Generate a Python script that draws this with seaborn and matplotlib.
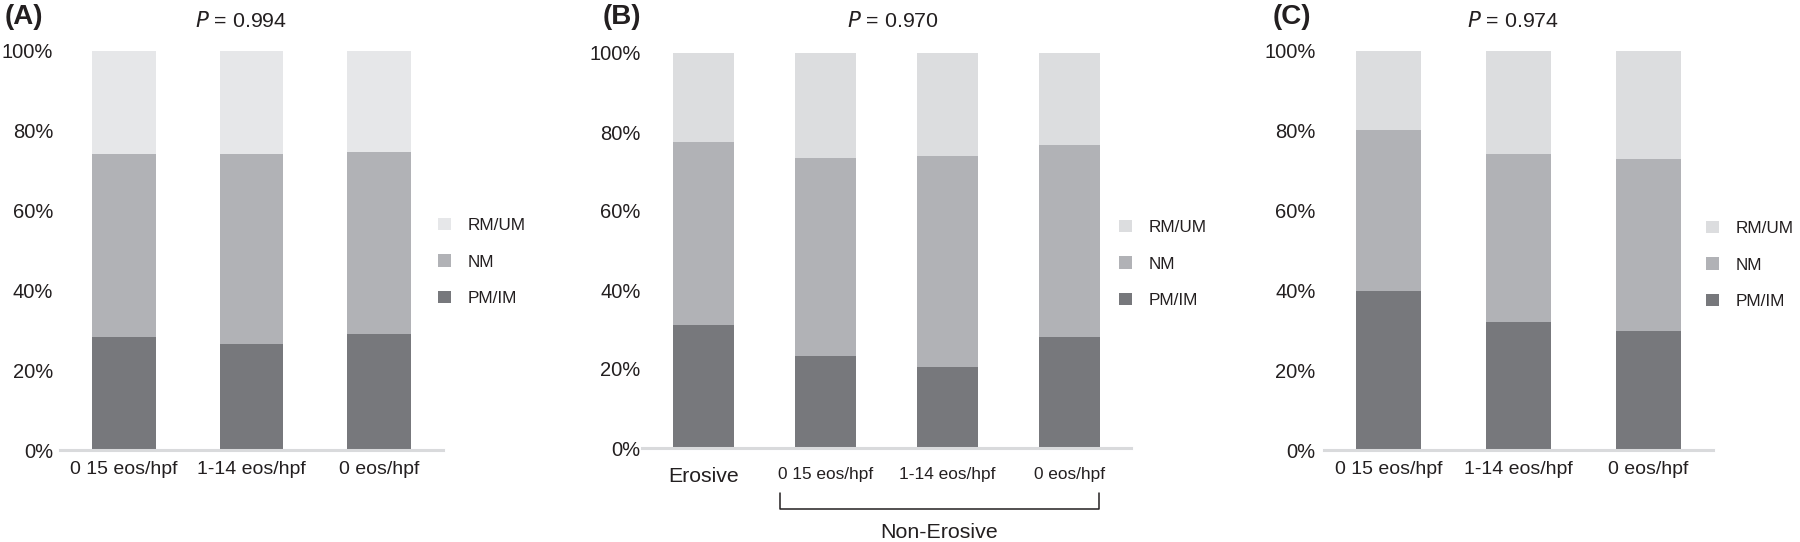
import matplotlib
matplotlib.use("Agg")
import matplotlib.pyplot as plt
import seaborn as sns
import pandas as pd
from matplotlib.patches import Patch
from matplotlib.transforms import blended_transform_factory

sns.set_theme(style="white")
plt.rcParams['font.family'] = ['Liberation Sans', 'DejaVu Sans']

# ---- data (fractions of patients) ----
cats_A = ["0 15 eos/hpf", "1-14 eos/hpf", "0 eos/hpf"]
pm_A = [0.284, 0.265, 0.290]
nm_A = [0.458, 0.477, 0.458]

cats_B = ["Erosive", "0 15 eos/hpf", "1-14 eos/hpf", "0 eos/hpf"]
pm_B = [0.311, 0.233, 0.205, 0.282]
nm_B = [0.463, 0.501, 0.535, 0.486]

cats_C = ["0 15 eos/hpf", "1-14 eos/hpf", "0 eos/hpf"]
pm_C = [0.398, 0.320, 0.298]
nm_C = [0.404, 0.421, 0.431]

p_values = ["0.994", "0.970", "0.974"]
panel_letters = ["(A)", "(B)", "(C)"]
legend_labels = ["RM/UM", "NM", "PM/IM"]
yticks = [0, 0.2, 0.4, 0.6, 0.8, 1.0]
ytick_labels = ["0%", "20%", "40%", "60%", "80%", "100%"]

C_PM = "#77787c"
C_NM = "#b1b2b6"
C_RM_A = "#e6e7e9"
C_RM = "#dcdddf"
TXT = "#231f20"
AXLINE = "#d9dadc"

W, H = 1800, 542
fig = plt.figure(figsize=(18, 5.42), dpi=100)


def fx(px):
    return px / W


def fy(py):
    return 1 - py / H


def make_panel(rect_px, cats, pm, nm, rm_color, ylab_pad, legend_xy, title_x, p_text, letter, letter_x):
    x0, x1, ytop, ybot = rect_px
    ax = fig.add_axes([fx(x0), fy(ybot), fx(x1 - x0), (ybot - ytop) / H])
    df = pd.DataFrame({"cat": cats,
                       "pm": pm,
                       "nm_cum": [a + b for a, b in zip(pm, nm)],
                       "total": [1.0] * len(cats)})
    sns.barplot(data=df, x="cat", y="total", order=cats, color=rm_color,
                width=0.5, ax=ax, saturation=1, linewidth=0)
    sns.barplot(data=df, x="cat", y="nm_cum", order=cats, color=C_NM,
                width=0.5, ax=ax, saturation=1, linewidth=0)
    sns.barplot(data=df, x="cat", y="pm", order=cats, color=C_PM,
                width=0.5, ax=ax, saturation=1, linewidth=0)
    ax.set_xlim(-0.5, len(cats) - 0.5)
    ax.set_ylim(0, 1.0)
    ax.set_xlabel("")
    ax.set_ylabel("")
    ax.set_yticks(yticks)
    ax.set_yticklabels(ytick_labels, fontsize=14.5, color=TXT)
    ax.tick_params(axis="y", length=0, pad=ylab_pad)
    ax.tick_params(axis="x", length=0, pad=8, labelsize=14, labelcolor=TXT)
    for s in ["top", "right", "left"]:
        ax.spines[s].set_visible(False)
    ax.spines["bottom"].set_color(AXLINE)
    ax.spines["bottom"].set_linewidth(2.2)
    ax.set_facecolor("none")
    ax.grid(False)

    handles = [Patch(facecolor=rm_color, edgecolor="none"),
               Patch(facecolor=C_NM, edgecolor="none"),
               Patch(facecolor=C_PM, edgecolor="none")]
    fig.legend(handles, legend_labels, loc="center left",
               bbox_to_anchor=(fx(legend_xy[0]), fy(legend_xy[1])),
               frameon=False, fontsize=12.3, handlelength=0.75, handleheight=0.75,
               handletextpad=1.0, labelspacing=1.25, borderpad=0, borderaxespad=0,
               labelcolor=TXT)

    fig.text(fx(title_x), fy(21), r"$\it{P}$" + " = " + p_text, ha="center", va="center",
             fontsize=15.4, color=TXT)
    fig.text(fx(letter_x), fy(17), letter, ha="left", va="center",
             fontsize=20, fontweight="bold", color=TXT)
    return ax


axA = make_panel((60, 443, 51, 450), cats_A, pm_A, nm_A, C_RM_A, 5,
                 (438, 262), 241, p_values[0], panel_letters[0], 5)
axB = make_panel((642, 1131, 53, 448), cats_B, pm_B, nm_B, C_RM, 1,
                 (1119, 264), 893, p_values[1], panel_letters[1], 603)
axC = make_panel((1324, 1713, 51, 450), cats_C, pm_C, nm_C, C_RM, 6,
                 (1706, 265), 1513, p_values[2], panel_letters[2], 1273)

# panel B tick labels: Erosive larger, others smaller
axB.tick_params(axis="x", pad=14)
for lab in axB.get_xticklabels():
    lab.set_fontsize(15.3 if lab.get_text() == "Erosive" else 12.4)

# Non-Erosive bracket
tr = blended_transform_factory(axB.transData, fig.transFigure)
bx0, bx1 = 0.627, 3.24
axB.plot([bx0, bx0, bx1, bx1], [fy(493), fy(509), fy(509), fy(493)],
         color=TXT, lw=1.1, transform=tr, clip_on=False)
axB.text((bx0 + bx1) / 2, fy(533), "Non-Erosive", transform=tr, ha="center",
         va="center", fontsize=15.4, color=TXT)

fig.savefig("out.png", dpi=100, facecolor="white")
